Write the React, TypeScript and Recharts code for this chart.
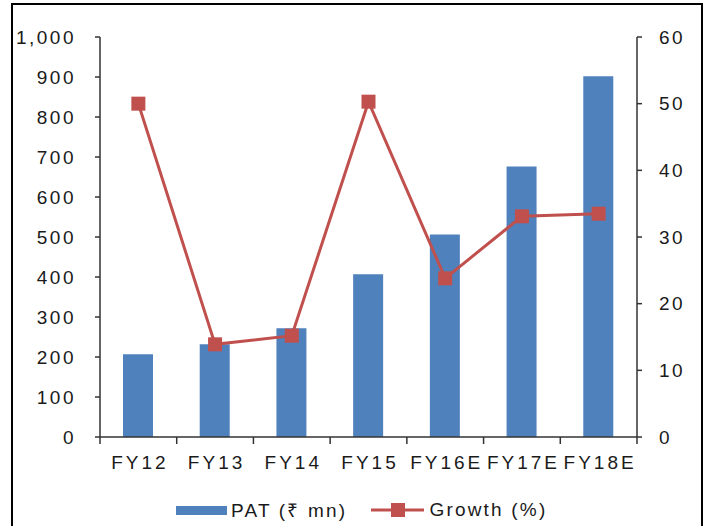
import { Bar, ComposedChart, Legend, Line, XAxis, YAxis } from "recharts";

const years = ["FY12", "FY13", "FY14", "FY15", "FY16E", "FY17E", "FY18E"];
const pat = [207, 232, 272, 407, 506, 676, 902];
const growth = [50, 13.9, 15.2, 50.3, 23.8, 33.1, 33.5];
const patTicks = [0, 100, 200, 300, 400, 500, 600, 700, 800, 900, 1000];
const growthTicks = [0, 10, 20, 30, 40, 50, 60];

const data = years.map((name, i) => ({ name, pat: pat[i], growth: growth[i] }));

const W = 709;
const H = 526;
const LEFT_W = 100;
const RIGHT_W = 72;
const BAND = (W - LEFT_W - RIGHT_W) / years.length;
const X_TICK = 7;
const X_MARGIN = 12;

const BLUE = "#4F81BD";
const RED = "#C0504D";
const AXIS = "#333";
const INK = "#1a1a1a";
const FONT = "'Liberation Sans', Arial, sans-serif";

// category labels sit mid-band, tick marks go on the band edges
function YearTick(props: any) {
  const { x, y, payload, index } = props;
  const top = y - X_MARGIN - X_TICK;
  const bottom = y - X_MARGIN;
  return (
    <g>
      <line x1={x - BAND / 2} x2={x - BAND / 2} y1={top} y2={bottom} stroke={AXIS} strokeWidth={1.5} />
      {index === years.length - 1 && (
        <line x1={x + BAND / 2} x2={x + BAND / 2} y1={top} y2={bottom} stroke={AXIS} strokeWidth={1.5} />
      )}
      <text x={x + 1.5} y={y} dy="0.71em" textAnchor="middle" fill={INK} fontSize={19} letterSpacing={3} fontFamily={FONT}>
        {payload.value}
      </text>
    </g>
  );
}

function SquareDot(props: any) {
  const { cx, cy, index } = props;
  return <rect key={index} x={cx - 7} y={cy - 7} width={14} height={14} fill={RED} />;
}

function LegendContent() {
  const text = { fontSize: 19, letterSpacing: 2.2, color: INK, fontFamily: FONT };
  return (
    <div style={{ display: "flex", alignItems: "center", height: 22, paddingLeft: 176 }}>
      <span style={{ width: 51, height: 9, background: BLUE, marginRight: 4 }} />
      <span style={text}>PAT (₹ mn)</span>
      <svg width={53} height={16} style={{ marginLeft: 24, marginRight: 5 }}>
        <line x1={0} x2={53} y1={8} y2={8} stroke={RED} strokeWidth={3} />
        <rect x={20} y={1} width={14} height={14} fill={RED} />
      </svg>
      <span style={text}>Growth (%)</span>
    </div>
  );
}

export default function App() {
  return (
    <div style={{ position: "fixed", left: 0, top: 0, width: W, height: H, overflow: "hidden", background: "#fff" }}>
      <div
        style={{
          position: "absolute",
          left: 11,
          top: 3,
          width: 692,
          height: 600,
          border: "2px solid #000",
          boxSizing: "border-box",
        }}
      />
      <div style={{ position: "absolute", left: 0, top: 0 }}>
        <ComposedChart width={W} height={H} data={data} margin={{ top: 37, right: 0, bottom: 22, left: 0 }}>
          <XAxis
            dataKey="name"
            xAxisId="x"
            height={45}
            tickSize={X_TICK}
            tickMargin={X_MARGIN}
            tickLine={false}
            axisLine={{ stroke: AXIS, strokeWidth: 1.5 }}
            tick={<YearTick />}
            interval={0}
          />
          <YAxis
            yAxisId="left"
            width={LEFT_W}
            domain={[0, 1000]}
            ticks={patTicks}
            tickFormatter={(v) => Number(v).toLocaleString("en-US")}
            tickSize={5}
            tickMargin={19}
            axisLine={{ stroke: AXIS, strokeWidth: 1.5 }}
            tickLine={{ stroke: AXIS, strokeWidth: 1.5 }}
            tick={{ fill: INK, fontSize: 19, fontFamily: FONT, letterSpacing: 2.5 }}
            interval={0}
          />
          <YAxis
            yAxisId="right"
            orientation="right"
            width={RIGHT_W}
            domain={[0, 60]}
            ticks={growthTicks}
            tickSize={5}
            tickMargin={17}
            axisLine={{ stroke: AXIS, strokeWidth: 1.5 }}
            tickLine={{ stroke: AXIS, strokeWidth: 1.5 }}
            tick={{ fill: INK, fontSize: 19, fontFamily: FONT, letterSpacing: 2.5 }}
            interval={0}
          />
          <Legend verticalAlign="bottom" height={22} wrapperStyle={{ top: 499, left: 0, width: W }} content={<LegendContent />} />
          <Bar dataKey="pat" name="PAT (₹ mn)" xAxisId="x" yAxisId="left" fill={BLUE} barSize={30} isAnimationActive={false} />
          <Line
            dataKey="growth"
            name="Growth (%)"
            xAxisId="x"
            yAxisId="right"
            type="linear"
            stroke={RED}
            strokeWidth={3}
            dot={SquareDot}
            activeDot={false}
            isAnimationActive={false}
          />
        </ComposedChart>
      </div>
    </div>
  );
}
